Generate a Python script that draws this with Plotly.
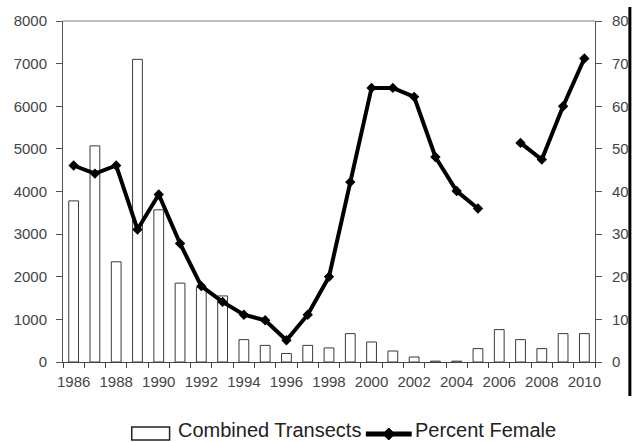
import plotly.graph_objects as go

# Survey years
years = list(range(1986, 2011))

# Counts from the combined transects (left axis)
combined_transects = [3780, 5070, 2350, 7100, 3570, 1850, 1750, 1550, 525, 390,
                      200, 390, 330, 666, 469, 258, 117, 20, 20, 314,
                      760, 525, 314, 666, 666]

# Percent of the population that is female (right axis); no value for 2006
percent_female = [46.1, 44.2, 46.1, 31.1, 39.3, 27.8, 17.8, 14.1, 11.1, 9.8,
                  5.1, 11.1, 20.0, 42.2, 64.3, 64.3, 62.2, 48.1, 40.1, 36.0,
                  None, 51.4, 47.5, 60.0, 71.2]

# Every other year gets a label on the x axis
year_labels = [str(y) if y % 2 == 0 else "" for y in years]

left_ticks = [0, 1000, 2000, 3000, 4000, 5000, 6000, 7000, 8000]
right_ticks = [0, 10, 20, 30, 40, 50, 60, 70, 80]

W, H = 641, 442
ML, MR, MT, MB = 63, 44, 21, 80
PW, PH = W - ML - MR, H - MT - MB

FONT = "Liberation Sans, Arial, sans-serif"
TICK_FONT = dict(family=FONT, size=15, color="#444444")
LEGEND_FONT = dict(family=FONT, size=20, color="#222222")


def px_x(x):
    return (x - ML) / PW


def px_y(y):
    return (H - MB - y) / PH


fig = go.Figure()

fig.add_trace(go.Bar(
    x=years, y=combined_transects, name="Combined Transects",
    marker=dict(color="white", line=dict(color="#3a3a3a", width=1)),
    width=0.46, yaxis="y",
))

fig.add_trace(go.Scatter(
    x=years, y=percent_female, name="Percent Female", mode="lines+markers",
    line=dict(color="black", width=4),
    marker=dict(symbol="diamond", size=8, color="black"),
    connectgaps=False, yaxis="y2",
))

shapes = [
    # top border of the plotting area
    dict(type="line", xref="paper", yref="paper", x0=0, x1=1, y0=1, y1=1,
         line=dict(color="#7a7a7a", width=1)),
    # heavy vertical rule at the right edge
    dict(type="line", xref="paper", yref="paper",
         x0=px_x(632), x1=px_x(632), y0=px_y(7), y1=px_y(396),
         line=dict(color="black", width=3)),
    # legend: bar swatch
    dict(type="rect", xref="paper", yref="paper",
         x0=px_x(132), x1=px_x(170), y0=px_y(440), y1=px_y(427),
         line=dict(color="#222222", width=1.5), fillcolor="white"),
    # legend: line swatch
    dict(type="line", xref="paper", yref="paper",
         x0=px_x(367), x1=px_x(413), y0=px_y(434), y1=px_y(434),
         line=dict(color="black", width=5)),
]

# legend: diamond marker on the line swatch
cx, cy = 390, 434
shapes.append(dict(
    type="path", xref="paper", yref="paper",
    path=(f"M {px_x(cx - 6)} {px_y(cy)} L {px_x(cx)} {px_y(cy - 6)} "
          f"L {px_x(cx + 6)} {px_y(cy)} L {px_x(cx)} {px_y(cy + 6)} Z"),
    fillcolor="black", line=dict(color="black", width=1),
))

annotations = [
    dict(text="Combined Transects", xref="paper", yref="paper",
         x=px_x(176), y=px_y(430), xanchor="left", yanchor="middle",
         showarrow=False, font=LEGEND_FONT),
    dict(text="Percent Female", xref="paper", yref="paper",
         x=px_x(414), y=px_y(430), xanchor="left", yanchor="middle",
         showarrow=False, font=LEGEND_FONT),
]

fig.update_layout(
    width=W, height=H,
    margin=dict(l=ML, r=MR, t=MT, b=MB, pad=0),
    paper_bgcolor="white", plot_bgcolor="white",
    showlegend=False,
    font=dict(family=FONT, size=15, color="#444444"),
    shapes=shapes, annotations=annotations,
    xaxis=dict(
        type="category", tickmode="array", tickvals=years, ticktext=year_labels,
        tickson="boundaries", ticks="outside", ticklen=5, tickcolor="#444444",
        showline=True, linecolor="#444444", linewidth=1,
        showgrid=False, zeroline=False, tickangle=0,
        range=[-0.5, len(years) - 0.5], ticklabelstandoff=6,
        tickfont=TICK_FONT,
    ),
    yaxis=dict(
        range=[0, 8000], tickvals=left_ticks, ticks="outside", ticklen=6,
        tickcolor="#555555", showline=True, linecolor="#555555", linewidth=1,
        showgrid=False, zeroline=False, ticklabelstandoff=6,
        tickfont=TICK_FONT,
    ),
    yaxis2=dict(
        range=[0, 80], tickvals=right_ticks, overlaying="y", side="right",
        ticks="outside", ticklen=6, tickcolor="#555555",
        showline=True, linecolor="#555555", linewidth=1,
        showgrid=False, zeroline=False, ticklabelstandoff=7,
        tickfont=TICK_FONT,
    ),
)

fig.write_html("out.html")
